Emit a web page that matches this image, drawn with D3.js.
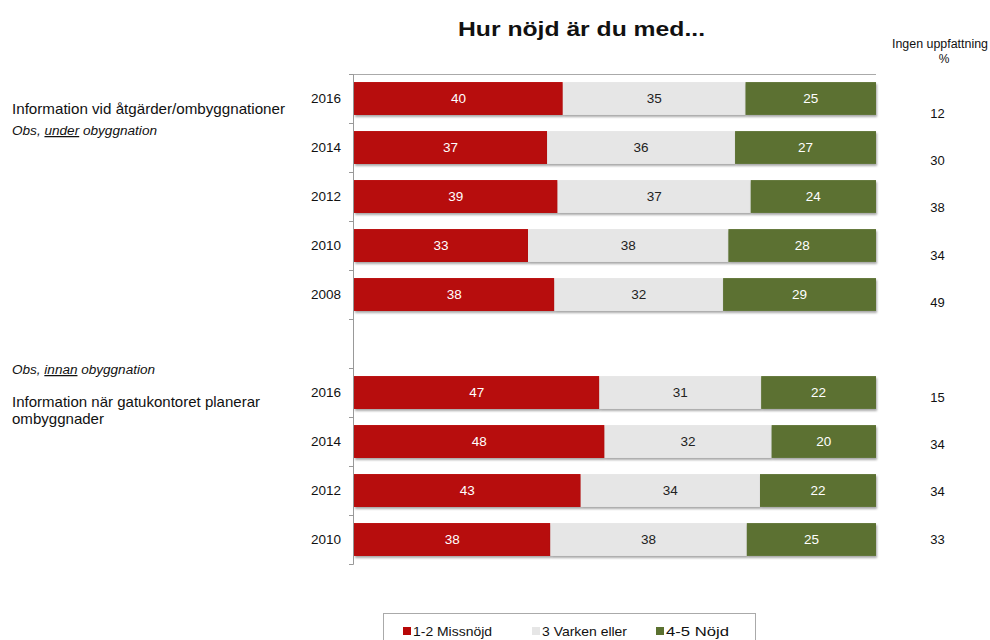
<!DOCTYPE html>
<html><head><meta charset="utf-8">
<script src="https://cdn.jsdelivr.net/npm/d3@7"></script>
<style>body{margin:0;background:#fff;font-family:"Liberation Sans",Arial,sans-serif;}</style>
</head><body><svg id="c" width="990" height="640"></svg>
<script>
const rows = ["a2016","a2014","a2012","a2010","a2008","gap","b2016","b2014","b2012","b2010"];
const years = ["2016","2014","2012","2010","2008","","2016","2014","2012","2010"];
const missnojd = [40,37,39,33,38,null,47,48,43,38];
const varken   = [35,36,37,38,32,null,31,32,34,38];
const nojd     = [25,27,24,28,29,null,22,20,22,25];
const ingen    = [12,30,38,34,49,null,15,34,34,33];
const seriesNames = ["1-2 Missnöjd","3 Varken eller","4-5 Nöjd"];
const colors = ["#B70707","#E6E6E6","#5B7130"];

const svg = d3.select("#c");
const font = '"Liberation Sans",Arial,sans-serif';

const defs = svg.append("defs");
const f = defs.append("filter").attr("id","sh").attr("x","-5%").attr("y","-20%").attr("width","110%").attr("height","160%");
f.append("feDropShadow").attr("dx",1).attr("dy",2).attr("stdDeviation",1.2).attr("flood-color","#000").attr("flood-opacity",0.35);

const x0 = 353, x1 = 876;
const y = d3.scaleBand().domain(rows).range([74,564]).paddingInner(0.33).paddingOuter(0.165);
const x = d3.scaleLinear().domain([0,1]).range([x0+1,x1]);

const data = rows.map((r,i)=>({row:r, m:missnojd[i], v:varken[i], n:nojd[i]})).filter(d=>d.m!==null);
const stack = d3.stack().keys(["m","v","n"]).offset(d3.stackOffsetExpand);
const stacked = stack(data);

// top grey line
svg.append("line").attr("x1",x0).attr("x2",x1).attr("y1",74.5).attr("y2",74.5).attr("stroke","#aaa");

// axis
const ax = svg.append("g").attr("transform",`translate(${x0},0)`)
  .call(d3.axisLeft(d3.scaleLinear().domain([0,10]).range([74,564])).ticks(10).tickSize(4).tickFormat(""));
ax.selectAll("path").attr("stroke","#999");
ax.selectAll("line").attr("stroke","#999");

// bars
const g = svg.append("g");
stacked.forEach((s,si)=>{
  g.selectAll(null).data(s).enter().append("rect")
    .attr("x",d=>x(d[0])).attr("width",d=>x(d[1])-x(d[0]))
    .attr("y",d=>y(d.data.row)).attr("height",y.bandwidth())
    .attr("fill",colors[si]).attr("filter","url(#sh)");
  g.selectAll(null).data(s).enter().append("text")
    .attr("x",d=>(x(d[0])+x(d[1]))/2).attr("y",d=>y(d.data.row)+y.bandwidth()/2)
    .attr("dy","0.35em").attr("text-anchor","middle")
    .attr("font-family",font).attr("font-size",13.5)
    .attr("fill",si===1?"#222":"#fff")
    .text(d=>d.data[["m","v","n"][si]]);
});

// year labels
svg.append("g").selectAll("text").data(rows.map((r,i)=>({r,t:years[i]})).filter(d=>d.t))
  .enter().append("text").attr("x",341).attr("y",d=>y(d.r)+y.bandwidth()/2).attr("dy","0.35em")
  .attr("text-anchor","end").attr("font-family",font).attr("font-size",13.5).attr("fill","#111").text(d=>d.t);

// ingen uppfattning column
const yr = d3.scalePoint().domain(rows).range([113,539]);
svg.append("g").selectAll("text").data(rows.map((r,i)=>({r,v:ingen[i]})).filter(d=>d.v!==null))
  .enter().append("text").attr("x",937.5).attr("y",d=>yr(d.r)).attr("dy","0.35em")
  .attr("text-anchor","middle").attr("font-family",font).attr("font-size",13).attr("fill","#111").text(d=>d.v);

function txt(t,xx,yy,size,len,opts={}){
  const e = svg.append("text").attr("x",xx).attr("y",yy).attr("font-family",font).attr("font-size",size).attr("fill","#111");
  if(opts.anchor) e.attr("text-anchor",opts.anchor);
  if(opts.bold) e.attr("font-weight","bold");
  if(opts.italic) e.attr("font-style","italic");
  if(len) e.attr("textLength",len).attr("lengthAdjust","spacingAndGlyphs");
  if(t!==null) e.text(t);
  return e;
}
txt("Ingen uppfattning",940,48,12,96,{anchor:"middle"});
txt("%",944,63,12,null,{anchor:"middle"});

// title
txt("Hur nöjd är du med...",581.5,36,21,247,{anchor:"middle",bold:true});

// left labels
txt("Information vid åtgärder/ombyggnationer",12,114,15,273);
let e1 = txt(null,12,135,12.5,145,{italic:true});
e1.append("tspan").text("Obs, ");
e1.append("tspan").attr("text-decoration","underline").text("under");
e1.append("tspan").text("  obyggnation");
let e2 = txt(null,12,374,12.5,143,{italic:true});
e2.append("tspan").text("Obs, ");
e2.append("tspan").attr("text-decoration","underline").text("innan");
e2.append("tspan").text(" obyggnation");
txt("Information när gatukontoret planerar",12,407,15,248);
txt("ombyggnader",12,424,15,92);

// legend
svg.append("rect").attr("x",383.5).attr("y",613.5).attr("width",372).attr("height",40).attr("fill","#fff").attr("stroke","#aaa");
const lx = [403,532,656];
const ll = [79,85,63];
const lg = svg.append("g").selectAll("g").data(seriesNames).enter().append("g")
  .attr("transform",(d,i)=>`translate(${lx[i]},627)`);
lg.append("rect").attr("width",8).attr("height",8).attr("fill",(d,i)=>colors[i]);
lg.append("text").attr("x",10).attr("y",9).attr("font-family",font).attr("font-size",13).attr("fill","#111")
  .attr("textLength",(d,i)=>ll[i]).attr("lengthAdjust","spacingAndGlyphs").text(d=>d);
</script></body></html>
